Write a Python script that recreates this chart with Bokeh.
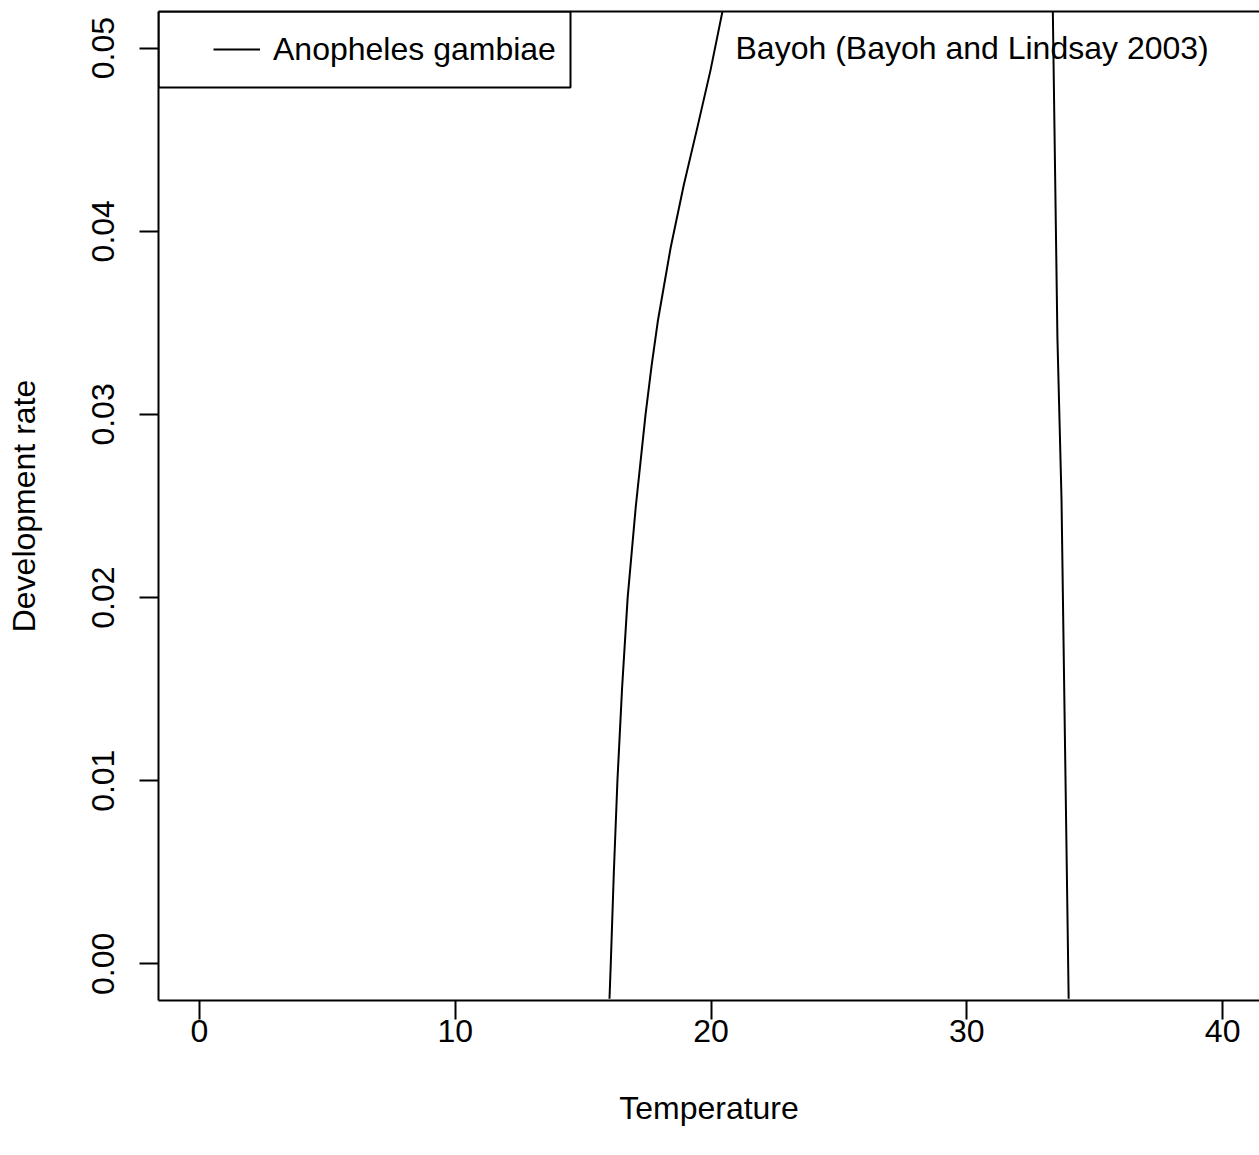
from bokeh.plotting import figure
from bokeh.models import (Range1d, FixedTicker, LinearAxis, Label, BoxAnnotation,
                          Legend, LegendItem)
from bokeh.embed import file_html
from bokeh.resources import INLINE

# ---- data ----
temperature = [16.03, 16.08, 16.20, 16.34, 16.52, 16.74, 17.06, 17.44, 17.68, 17.92,
               18.42, 18.93, 19.47, 19.98, 20.46,
               21.0, 22.0, 24.0, 26.0, 28.0, 30.0, 31.5, 32.5, 33.0,
               33.36, 33.54, 33.70, 33.84, 33.98]
rate = [-0.0019, 0.0000, 0.0050, 0.0100, 0.0150, 0.0200, 0.0250, 0.0300, 0.0327, 0.0351,
        0.0391, 0.0425, 0.0457, 0.0488, 0.0521,
        0.0560, 0.0630, 0.0740, 0.0810, 0.0850, 0.0830, 0.0760, 0.0660, 0.0590,
        0.0521, 0.0342, 0.0254, 0.0117, -0.0019]

x_ticks = [0, 10, 20, 30, 40]
y_ticks = [0.00, 0.01, 0.02, 0.03, 0.04, 0.05]
y_tick_labels = ["0.00", "0.01", "0.02", "0.03", "0.04", "0.05"]

series_name = "Anopheles gambiae"
source_note = "Bayoh (Bayoh and Lindsay 2003)"
x_title = "Temperature"
y_title = "Development rate"

FONT = "Liberation Sans"
FS = "32px"

p = figure(frame_width=1101, frame_height=989,
           min_border_left=158, min_border_top=11, min_border_right=0,
           min_border_bottom=10,
           x_range=Range1d(-1.6, 41.44), y_range=Range1d(-0.002, 0.052),
           output_backend="svg", toolbar_location=None,
           x_axis_label=x_title, y_axis_label=y_title)
p.outline_line_color = None
p.grid.visible = False
p.background_fill_color = "white"
p.border_fill_color = "white"

r = p.line(temperature, rate, line_color="black", line_width=2)

# axes
xa = p.xaxis[0]
ya = p.yaxis[0]
xa.ticker = FixedTicker(ticks=x_ticks)
ya.ticker = FixedTicker(ticks=y_ticks)
ya.major_label_overrides = {t: l for t, l in zip(y_ticks, y_tick_labels)}
ya.major_label_orientation = "vertical"
for ax in (xa, ya):
    ax.axis_line_color = "black"
    ax.axis_line_width = 2
    ax.major_tick_line_color = "black"
    ax.major_tick_line_width = 2
    ax.major_tick_out = 19
    ax.major_tick_in = 0
    ax.minor_tick_line_color = None
    ax.major_label_text_font = FONT
    ax.major_label_text_font_size = FS
    ax.major_label_text_color = "black"
    ax.axis_label_text_font = FONT
    ax.axis_label_text_font_size = FS
    ax.axis_label_text_font_style = "normal"
    ax.axis_label_text_color = "black"
xa.major_label_standoff = 0
xa.axis_label_standoff = 45
ya.major_label_standoff = 25
ya.axis_label_standoff = 48

# top border of the box
top = LinearAxis(ticker=FixedTicker(ticks=[]), axis_line_color="black",
                 axis_line_width=2, major_tick_out=0, major_tick_in=0,
                 minor_tick_line_color=None, major_label_standoff=0,
                 major_label_text_font_size="0px")
p.add_layout(top, "above")

# legend box
box = BoxAnnotation(left=0, right=412, top=989, bottom=913,
                    left_units="screen", right_units="screen",
                    top_units="screen", bottom_units="screen",
                    fill_color=None, line_color="black", line_alpha=1.0,
                    line_width=2)
p.add_layout(box)

legend = Legend(items=[LegendItem(label=series_name, renderers=[r])],
                location=(55, 932), padding=0, margin=0, spacing=0,
                glyph_width=47, glyph_height=38, label_height=38,
                label_standoff=13, border_line_color=None,
                background_fill_alpha=0,
                label_text_font=FONT, label_text_font_size=FS,
                label_text_color="black")
p.add_layout(legend)

note = Label(x=577, y=953, x_units="screen", y_units="screen", text=source_note,
             text_font=FONT, text_font_size=FS, text_color="black",
             text_baseline="middle", text_align="left")
p.add_layout(note)

open("out.html", "w").write(file_html(p, INLINE))
